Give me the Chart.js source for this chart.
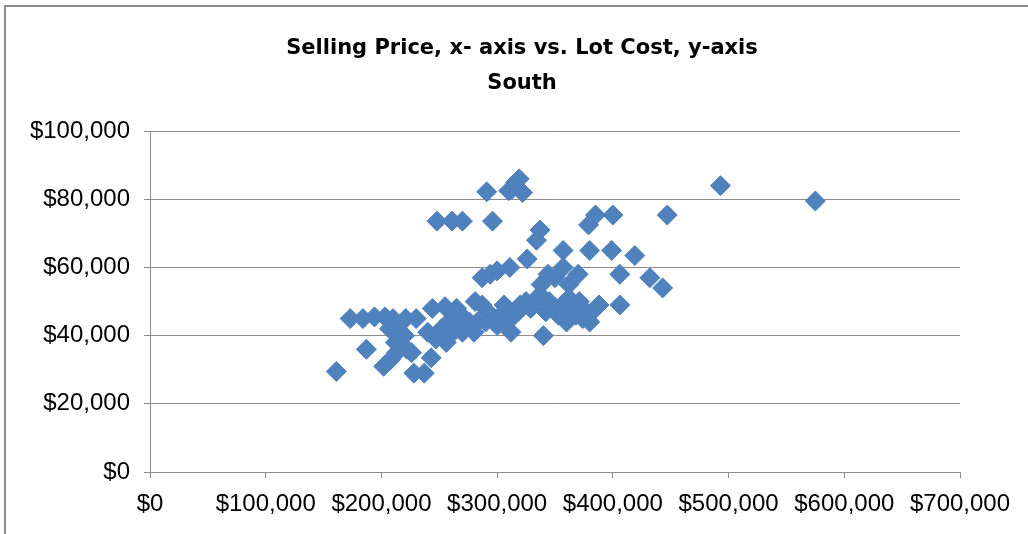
<!DOCTYPE html>
<html>
<head>
<meta charset="utf-8">
<script src="https://cdn.jsdelivr.net/npm/chart.js@4"></script>
<style>
  html, body { margin: 0; padding: 0; background: #fff; overflow: hidden; }
  #frame {
    position: absolute; left: 4px; top: 5px; width: 1060px; height: 560px;
    border: 2px solid #8a8a8a; box-sizing: border-box;
  }
  #wrap { position: absolute; left: 0; top: 0; width: 1028px; height: 534px; }
</style>
</head>
<body>
<div id="frame"></div>
<div id="wrap"><canvas id="scatter"></canvas></div>
<script>
// Selling price (x) and lot cost (y), South region
const sellingPrice = [
  161000, 187000, 173000, 184000, 194000, 203000, 210000, 202000, 208000, 213000,
  212000, 218000, 222000, 226000, 220000, 207000, 215000, 228000, 237000, 243000,
  230000, 221000, 244000, 240000, 247000, 252000, 256000, 258000, 262000, 255000,
  265000, 262000, 268000, 272000, 276000, 270000, 280000, 283000, 281000, 287000,
  292000, 290000, 296000, 300000, 303000, 306000, 309000, 312000, 313000, 318000,
  320000, 325000, 329000, 333000, 337000, 340000, 342000, 345000, 350000, 353000,
  356000, 360000, 362000, 365000, 368000, 371000, 374000, 377000, 380000, 385000,
  388000, 362000, 338000, 350000, 370000, 287000, 294000, 300000, 311000, 326000,
  344000, 357000, 406000, 432000, 443000, 406000, 357000, 380000, 399000, 419000,
  334000, 337000, 248000, 261000, 270000, 296000, 379000, 385000, 400000, 447000,
  291000, 310000, 316000, 319000, 322000, 313000, 493000, 575000
];
const lotCost = [
  29500, 36000, 45000, 45000, 45500, 45500, 45000, 31000, 33000, 35000,
  38000, 37000, 36000, 35000, 40000, 42000, 41000, 29000, 29000, 33500,
  45000, 45000, 48000, 41000, 39000, 42000, 38000, 44000, 47000, 48500,
  48000, 41000, 43000, 45000, 44000, 41000, 41000, 44000, 50000, 49000,
  47000, 44000, 45000, 43000, 46000, 49000, 44000, 41000, 46000, 47000,
  49000, 50000, 48000, 50000, 52000, 40000, 47000, 50000, 48000, 46000,
  49000, 44000, 51000, 48000, 46000, 50000, 45000, 47000, 44000, 48000,
  49000, 55000, 55000, 57000, 58000, 57000, 58000, 59000, 60000, 62500,
  58000, 60000, 58000, 57000, 54000, 49000, 65000, 65000, 65000, 63500,
  68000, 71000, 73600, 73600, 73600, 73600, 72500, 75400, 75400, 75400,
  82200, 82500, 85000, 86000, 82000, 83000, 84000, 79500
];
const titleLines = ["Selling Price, x- axis vs. Lot Cost, y-axis", "South"];

const points = sellingPrice.map((x, i) => ({ x: x, y: lotCost[i] }));
const money = v => "$" + Number(v).toLocaleString("en-US");
const gridGray = "#8c8c8c";
const tickFont = { family: "Liberation Sans", size: 24 };

new Chart(document.getElementById("scatter"), {
  type: "scatter",
  data: {
    datasets: [{
      data: points,
      pointStyle: "rectRot",
      pointRadius: 10,
      pointBackgroundColor: "#4f81bd",
      pointBorderColor: "#4f81bd",
      pointBorderWidth: 1,
    }],
  },
  options: {
    responsive: true,
    maintainAspectRatio: false,
    animation: false,
    layout: { padding: { top: 0, left: 16, right: 0, bottom: 0 } },
    plugins: {
      legend: { display: false },
      tooltip: { enabled: false },
      title: {
        display: true,
        text: titleLines,
        color: "#000",
        font: { family: "DejaVu Sans", size: 21, weight: "bold", lineHeight: 1.67 },
        padding: { top: 31, bottom: 30 },
      },
    },
    scales: {
      x: {
        type: "linear",
        min: 0, max: 700000,
        afterFit: s => { s.height = 62; },
        border: { color: gridGray, width: 1 },
        grid: { drawOnChartArea: false, drawTicks: true, tickLength: 6, color: gridGray },
        ticks: {
          stepSize: 100000, autoSkip: false, maxRotation: 0, padding: 12,
          color: "#000", font: tickFont, callback: v => money(v),
        },
      },
      y: {
        min: 0, max: 100000,
        afterFit: s => { s.width = 134; },
        border: { color: gridGray, width: 1 },
        grid: { color: gridGray, tickLength: 6 },
        ticks: {
          stepSize: 20000, padding: 14,
          color: "#000", font: tickFont, callback: v => money(v),
        },
      },
      // empty right-hand spacer so the plot ends where the original does
      spacer: {
        type: "linear",
        position: "right",
        afterFit: s => { s.width = 68; },
        grid: { display: false },
        border: { display: false },
        ticks: { display: false },
      },
    },
  },
});
</script>
</body>
</html>
